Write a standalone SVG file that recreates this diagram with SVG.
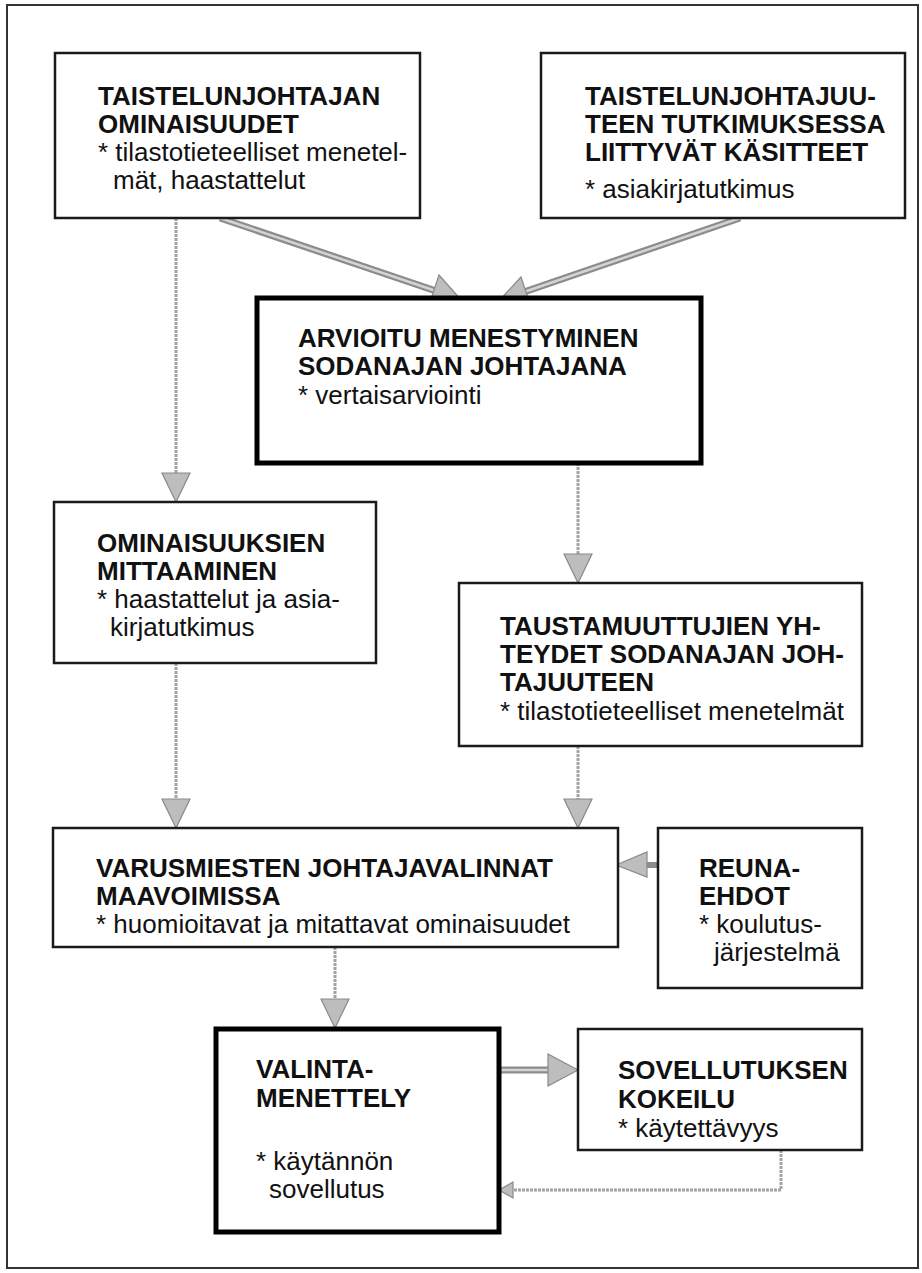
<svg xmlns="http://www.w3.org/2000/svg" width="922" height="1273" viewBox="0 0 922 1273">
<style>
.frame{fill:none;stroke:#333;stroke-width:2}
.box{fill:#fff;stroke:#1a1a1a;stroke-width:2.5}
.bold{fill:#fff;stroke:#000;stroke-width:5}
.h{font-family:"Liberation Sans",Arial,sans-serif;font-weight:bold;font-size:26px;fill:#111}
.t{font-family:"Liberation Sans",Arial,sans-serif;font-size:26px;fill:#111}
.thin{fill:none;stroke:#a2a2a2;stroke-width:3;stroke-dasharray:3 1}
.wideo{fill:none;stroke:#8c8c8c;stroke-width:7}
.widei{fill:none;stroke:#d4d4d4;stroke-width:2.5}
.head{fill:#bdbdbd;stroke:#8a8a8a;stroke-width:1.2}
</style>
<rect width="922" height="1273" fill="#fff"/>
<rect class="frame" x="7" y="5" width="911" height="1263"/>

<g id="connectors">
  <!-- box1 -> box3 -->
  <path class="wideo" d="M220 218 L436 291"/>
  <path class="widei" d="M220 218 L436 291"/>
  <polygon class="head" points="462,301 439,275 429,305"/>
  <!-- box2 -> box3 -->
  <path class="wideo" d="M740 218 L524 292"/>
  <path class="widei" d="M740 218 L524 292"/>
  <polygon class="head" points="498,302 521,277 531,307"/>
  <!-- box1 -> box4 -->
  <path class="thin" d="M176 218 V474"/>
  <polygon class="head" points="176,502 162,473 190,473"/>
  <!-- box3 -> box5 -->
  <path class="thin" d="M578 463 V555"/>
  <polygon class="head" points="578,583 564,554 592,554"/>
  <!-- box4 -> box6 -->
  <path class="thin" d="M176 663 V800"/>
  <polygon class="head" points="176,828 162,799 190,799"/>
  <!-- box5 -> box6 -->
  <path class="thin" d="M578 746 V800"/>
  <polygon class="head" points="578,828 564,799 592,799"/>
  <!-- box7 -> box6 -->
  <path class="wideo" d="M658 865 H645" style="stroke-width:6"/>
  <polygon class="head" points="616,865 647,852 647,877"/>
  <!-- box6 -> box8 -->
  <path class="thin" d="M335 947 V1000"/>
  <polygon class="head" points="335,1028 321,999 349,999"/>
  <!-- box8 -> box9 -->
  <path class="wideo" d="M499 1070 H549"/>
  <path class="widei" d="M499 1070 H549"/>
  <polygon class="head" points="578,1070 548,1054 548,1086"/>
  <!-- box9 -> box8 -->
  <path class="thin" d="M781 1150 V1190 H511"/>
  <polygon class="head" points="499,1190 513,1182 513,1198"/>
</g>

<g id="n1">
  <rect class="box" x="55" y="53" width="365" height="165"/>
  <text class="h" x="98" y="105">TAISTELUNJOHTAJAN</text>
  <text class="h" x="98" y="133">OMINAISUUDET</text>
  <text class="t" x="98" y="161">* tilastotieteelliset menetel-</text>
  <text class="t" x="113" y="189">mät, haastattelut</text>
</g>
<g id="n2">
  <rect class="box" x="541" y="53" width="364" height="165"/>
  <text class="h" x="585" y="105">TAISTELUNJOHTAJUU-</text>
  <text class="h" x="585" y="133">TEEN TUTKIMUKSESSA</text>
  <text class="h" x="585" y="161">LIITTYVÄT KÄSITTEET</text>
  <text class="t" x="585" y="198">* asiakirjatutkimus</text>
</g>
<g id="n3">
  <rect class="bold" x="257" y="298" width="444" height="165"/>
  <text class="h" x="298" y="347">ARVIOITU MENESTYMINEN</text>
  <text class="h" x="298" y="375">SODANAJAN JOHTAJANA</text>
  <text class="t" x="298" y="404">* vertaisarviointi</text>
</g>
<g id="n4">
  <rect class="box" x="54" y="502" width="322" height="161"/>
  <text class="h" x="97" y="552">OMINAISUUKSIEN</text>
  <text class="h" x="97" y="580">MITTAAMINEN</text>
  <text class="t" x="97" y="608">* haastattelut ja asia-</text>
  <text class="t" x="110" y="636">kirjatutkimus</text>
</g>
<g id="n5">
  <rect class="box" x="459" y="583" width="403" height="163"/>
  <text class="h" x="500" y="635">TAUSTAMUUTTUJIEN YH-</text>
  <text class="h" x="500" y="663">TEYDET SODANAJAN JOH-</text>
  <text class="h" x="500" y="691">TAJUUTEEN</text>
  <text class="t" x="500" y="720">* tilastotieteelliset menetelmät</text>
</g>
<g id="n6">
  <rect class="box" x="53" y="828" width="565" height="119"/>
  <text class="h" x="96" y="877">VARUSMIESTEN JOHTAJAVALINNAT</text>
  <text class="h" x="96" y="905">MAAVOIMISSA</text>
  <text class="t" x="96" y="933">* huomioitavat ja mitattavat ominaisuudet</text>
</g>
<g id="n7">
  <rect class="box" x="658" y="828" width="204" height="160"/>
  <text class="h" x="699" y="877">REUNA-</text>
  <text class="h" x="699" y="905">EHDOT</text>
  <text class="t" x="699" y="933">* koulutus-</text>
  <text class="t" x="714" y="961">järjestelmä</text>
</g>
<g id="n8">
  <rect class="bold" x="216" y="1029" width="283" height="203"/>
  <text class="h" x="256" y="1078">VALINTA-</text>
  <text class="h" x="256" y="1107">MENETTELY</text>
  <text class="t" x="256" y="1170">* käytännön</text>
  <text class="t" x="269" y="1198">sovellutus</text>
</g>
<g id="n9">
  <rect class="box" x="578" y="1029" width="284" height="121"/>
  <text class="h" x="618" y="1079">SOVELLUTUKSEN</text>
  <text class="h" x="618" y="1108">KOKEILU</text>
  <text class="t" x="618" y="1137">* käytettävyys</text>
</g>
</svg>
